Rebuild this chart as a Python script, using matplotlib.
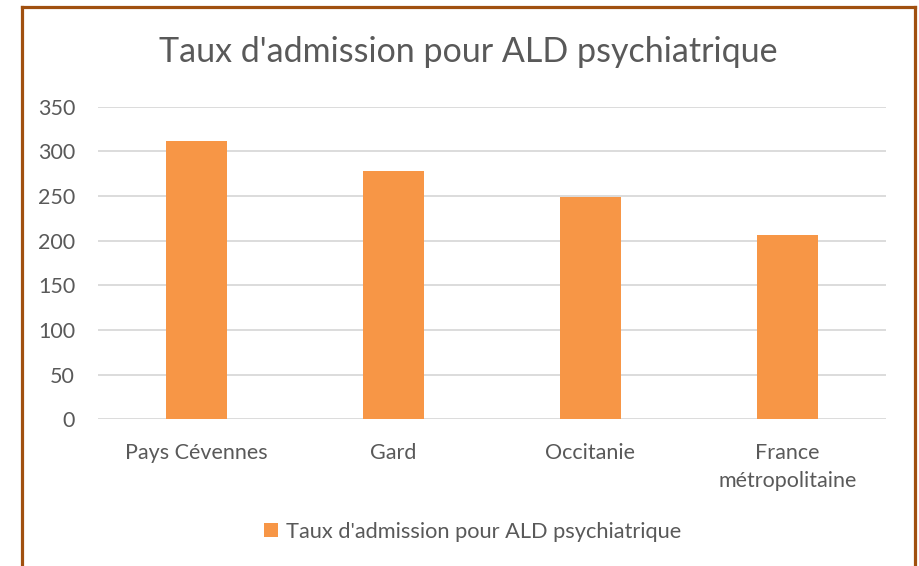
import matplotlib.pyplot as plt
from matplotlib.lines import Line2D

categories = ['Pays Cévennes', 'Gard', 'Occitanie', 'France\nmétropolitaine']
values = [312, 278, 249, 206]
series_name = "Taux d'admission pour ALD psychiatrique"
yticks = [0, 50, 100, 150, 200, 250, 300, 350]

plt.rcParams['font.family'] = ['Lato', 'DejaVu Sans']
text_color = '#595959'
bar_color = '#F79646'
border_color = '#A0500F'

fig = plt.figure(figsize=(9.19, 5.66), dpi=100)
ax = fig.add_axes([98 / 919, 1 - 419.3 / 566, 788 / 919, 312.6 / 566])

x = list(range(len(categories)))
ax.bar(x, values, width=0.31, color=bar_color, label=series_name, zorder=3)

ax.set_xlim(-0.5, len(categories) - 0.5)
ax.set_ylim(0, 350)
ax.set_yticks(yticks)
ax.set_xticks(x)
ax.set_xticklabels(categories)
ax.yaxis.grid(True, color='#D9D9D9', linewidth=1.3, zorder=0)
for s in ax.spines.values():
    s.set_visible(False)
ax.tick_params(axis='both', length=0, labelsize=15.5, colors=text_color)
ax.tick_params(axis='y', pad=16.5)
ax.tick_params(axis='x', pad=17)
for lbl in ax.get_xticklabels():
    lbl.set_verticalalignment('top')
    lbl.set_linespacing(1.5)

fig.text(468 / 919, 1 - 52 / 566, series_name, ha='center', va='center',
         fontsize=24.5, color=text_color)

fig.legend(loc='center', bbox_to_anchor=(473 / 919, 1 - 532 / 566),
           frameon=False, fontsize=15.7, labelcolor=text_color,
           handlelength=0.6, handleheight=0.6, handletextpad=0.4)

# brown frame around the chart (no bottom edge visible)
fig.add_artist(Line2D([22 / 919, 22 / 919], [0, 1 - 7 / 566], color=border_color,
                      linewidth=2.3, transform=fig.transFigure))
fig.add_artist(Line2D([22 / 919, 915 / 919], [1 - 7 / 566, 1 - 7 / 566],
                      color=border_color, linewidth=2.3, transform=fig.transFigure))
fig.add_artist(Line2D([915 / 919, 915 / 919], [0, 1 - 7 / 566], color=border_color,
                      linewidth=2.3, transform=fig.transFigure))

fig.savefig('out.png', dpi=100)
